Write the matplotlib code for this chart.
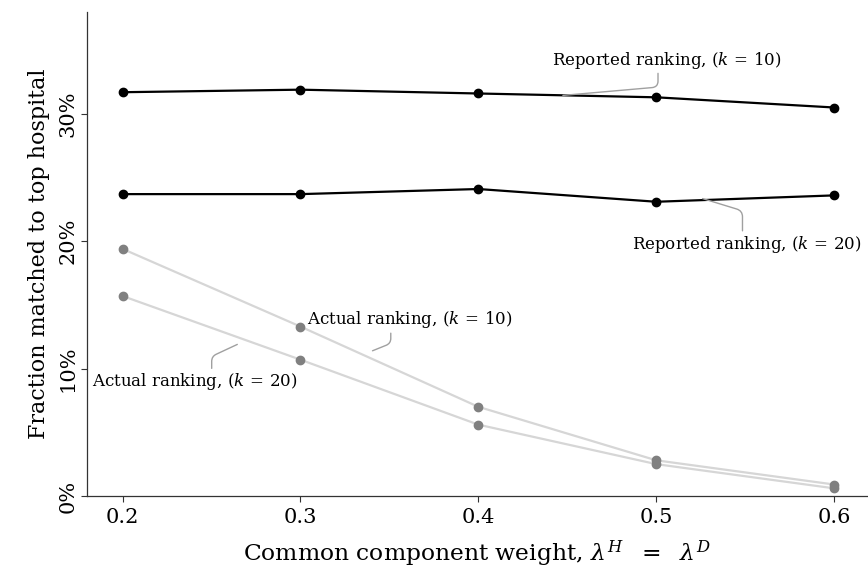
import matplotlib
matplotlib.use("Agg")
import matplotlib.pyplot as plt
from matplotlib.ticker import FuncFormatter

plt.rcParams['font.family'] = ['DejaVu Serif']
plt.rcParams['mathtext.fontset'] = 'dejavuserif'

# data
weights = [0.2, 0.3, 0.4, 0.5, 0.6]
reported_k10 = [0.317, 0.319, 0.316, 0.313, 0.305]
reported_k20 = [0.237, 0.237, 0.241, 0.231, 0.236]
actual_k10 = [0.194, 0.133, 0.070, 0.028, 0.009]
actual_k20 = [0.157, 0.107, 0.056, 0.025, 0.006]

fig = plt.figure(figsize=(8.68, 5.73), dpi=100)
ax = fig.add_axes([0.1002, 0.1344, 0.8998, 0.8447])

light = '#d6d6d6'
dot = '#808080'
ax.plot(weights, actual_k10, color=light, lw=1.6, zorder=1)
ax.plot(weights, actual_k20, color=light, lw=1.6, zorder=1)
ax.plot(weights, actual_k10, 'o', color=dot, ms=6, zorder=2)
ax.plot(weights, actual_k20, 'o', color=dot, ms=6, zorder=2)
ax.plot(weights, reported_k10, '-o', color='black', lw=1.6, ms=6, zorder=3)
ax.plot(weights, reported_k20, '-o', color='black', lw=1.6, ms=6, zorder=3)

ax.set_xlim(0.18, 0.619)
ax.set_ylim(0, 0.38)
ax.set_xticks(weights)
ax.set_xticklabels(['0.2', '0.3', '0.4', '0.5', '0.6'])
ax.set_yticks([0, 0.1, 0.2, 0.3])
ax.yaxis.set_major_formatter(FuncFormatter(lambda v, p: f"{v*100:.0f}%"))
for lab in ax.get_yticklabels():
    lab.set_rotation(90)
    lab.set_va('center')
ax.tick_params(axis='both', direction='out', length=4, width=0.8, labelsize=15, color='#333333')
ax.tick_params(axis='x', pad=5)
ax.tick_params(axis='y', pad=3)

for s in ['top', 'right']:
    ax.spines[s].set_visible(False)
for s in ['left', 'bottom']:
    ax.spines[s].set_color('#333333')
    ax.spines[s].set_linewidth(0.9)

ax.set_xlabel(r'Common component weight, $\lambda^{H}\ \ =\ \ \lambda^{D}$', fontsize=16.8, labelpad=8)
ax.set_ylabel('Fraction matched to top hospital', fontsize=16, labelpad=6)

fs = 12


def callout(label, xy, xytext, va, relx, angB, rad=6):
    rely = 0 if va == 'bottom' else 1
    ax.annotate(label, xy=xy, xytext=xytext, fontsize=fs, ha='left', va=va,
                arrowprops=dict(arrowstyle='-', color='#a0a0a0', lw=1.0,
                                shrinkA=0, shrinkB=0, relpos=(relx, rely),
                                connectionstyle=f'angle,angleA={90 if rely == 0 else -90},'
                                                f'angleB={angB},rad={rad}'))


callout(r'Reported ranking, $(k\,=\,10)$', (0.4475, 0.3145), (0.4416, 0.334), 'bottom', 0.46, 5)
callout(r'Reported ranking, $(k\,=\,20)$', (0.526, 0.2335), (0.4865, 0.206), 'top', 0.48, -17)
callout(r'Actual ranking, $(k\,=\,10)$', (0.3405, 0.114), (0.3034, 0.130), 'bottom', 0.41, 22, 5)
callout(r'Actual ranking, $(k\,=\,20)$', (0.2645, 0.119), (0.1831, 0.098), 'top', 0.58, 25, 5)

fig.savefig('out.png', dpi=100)
